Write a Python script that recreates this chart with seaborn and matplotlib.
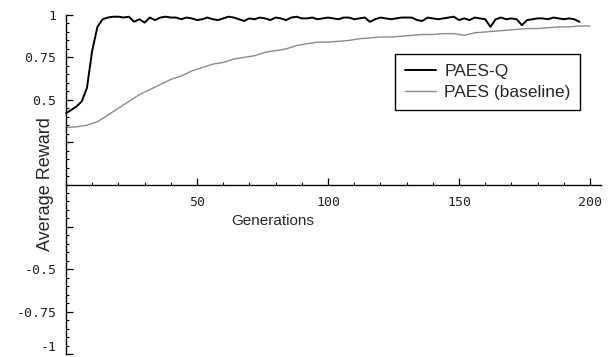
import numpy as np
import pandas as pd
import seaborn as sns
import matplotlib.pyplot as plt
from matplotlib.ticker import MultipleLocator, FixedLocator

sns.set_style("white")
plt.rcParams['font.family'] = ['Liberation Sans', 'DejaVu Sans']

# PAES-Q, read every 2 generations
gens_q = list(range(0, 198, 2))
reward_q = [0.42, 0.44, 0.46, 0.49, 0.57, 0.79, 0.93, 0.975, 0.985, 0.99,
            0.99, 0.985, 0.99, 0.96, 0.975, 0.955, 0.985, 0.97, 0.985, 0.99,
            0.985, 0.985, 0.975, 0.985, 0.98, 0.97, 0.975, 0.985, 0.975, 0.97,
            0.98, 0.99, 0.985, 0.975, 0.965, 0.98, 0.975, 0.985, 0.98, 0.97,
            0.985, 0.98, 0.97, 0.985, 0.99, 0.98, 0.98, 0.985, 0.975, 0.98,
            0.985, 0.98, 0.975, 0.985, 0.985, 0.975, 0.98, 0.985, 0.96, 0.975,
            0.985, 0.98, 0.975, 0.98, 0.985, 0.985, 0.985, 0.97, 0.965, 0.985,
            0.98, 0.975, 0.98, 0.985, 0.99, 0.97, 0.98, 0.97, 0.985, 0.98,
            0.975, 0.93, 0.975, 0.985, 0.975, 0.98, 0.975, 0.94, 0.97, 0.975,
            0.98, 0.98, 0.975, 0.985, 0.98, 0.975, 0.98, 0.975, 0.96]

# PAES baseline, read every 4 generations
gens_base = list(range(0, 204, 4))
reward_base = [0.337, 0.34, 0.35, 0.37, 0.41, 0.45, 0.49, 0.53, 0.56, 0.59,
               0.62, 0.64, 0.67, 0.69, 0.71, 0.72, 0.74, 0.75, 0.76, 0.78,
               0.79, 0.80, 0.82, 0.83, 0.84, 0.84, 0.845, 0.85, 0.86, 0.865,
               0.87, 0.87, 0.875, 0.88, 0.885, 0.885, 0.89, 0.89, 0.88, 0.895,
               0.90, 0.905, 0.91, 0.915, 0.92, 0.92, 0.925, 0.93, 0.93, 0.935,
               0.935]

df_q = pd.DataFrame({"gen": gens_q, "reward": reward_q})
df_base = pd.DataFrame({"gen": gens_base, "reward": reward_base})

W, H = 610, 357
fig = plt.figure(figsize=(W / 100, H / 100), dpi=100)
ax = fig.add_axes([66 / W, 3 / H, 534.5 / W, 339 / H])

sns.lineplot(data=df_q, x="gen", y="reward", ax=ax, color="black", linewidth=1.4,
             label="PAES-Q", clip_on=False)
sns.lineplot(data=df_base, x="gen", y="reward", ax=ax, color="#8a8a8a", linewidth=1.0,
             label="PAES (baseline)", clip_on=False)

ax.set_xlim(0, 204)
ax.set_ylim(-1, 1)
ax.spines['top'].set_visible(False)
ax.spines['right'].set_visible(False)
ax.spines['bottom'].set_position(('data', 0))
for s in ('left', 'bottom'):
    ax.spines[s].set_color('black')
    ax.spines[s].set_linewidth(1.0)

ax.xaxis.set_major_locator(FixedLocator([50, 100, 150, 200]))
ax.xaxis.set_minor_locator(MultipleLocator(10))
ax.yaxis.set_major_locator(FixedLocator([-1, -0.75, -0.5, -0.25, 0.25, 0.5, 0.75, 1]))
ax.yaxis.set_minor_locator(MultipleLocator(0.05))
ax.set_yticklabels(["-1", "-0.75", "-0.5", "", "", "0.5", "0.75", "1"])
ax.set_xticklabels(["50", "100", "150", "200"])
ax.tick_params(which='both', direction='in', color='black', left=True, bottom=True)
ax.tick_params(which='major', length=5, width=0.9)
ax.tick_params(which='minor', length=2.5, width=0.8)
ax.tick_params(axis='x', which='major', pad=8)
ax.tick_params(axis='y', which='major', pad=7)
for lab in ax.get_xticklabels() + ax.get_yticklabels():
    lab.set_fontfamily(['DejaVu Sans Mono'])
    lab.set_fontsize(9.5)
    lab.set_color('#222222')
# lowest label sits at the figure edge; nudge it up slightly
ax.get_yticklabels()[0].set_va('bottom')
ax.set_xlabel("")
ax.set_ylabel("")

fig.text(273 / W, 1 - 221 / H, "Generations", ha='center', va='center', fontsize=11)
fig.text(46 / W, 1 - 184 / H, "Average Reward", ha='center', va='center',
         rotation=90, fontsize=13)

leg = ax.legend(loc='upper left', bbox_to_anchor=(395 / W, 1 - 54 / H),
                bbox_transform=fig.transFigure, borderaxespad=0, fancybox=False,
                edgecolor='black', framealpha=1, fontsize=12.5, handlelength=1.8,
                handletextpad=0.5, labelspacing=0.38, borderpad=0.55)
leg.get_frame().set_linewidth(1.0)

fig.savefig("out.png", dpi=100)
